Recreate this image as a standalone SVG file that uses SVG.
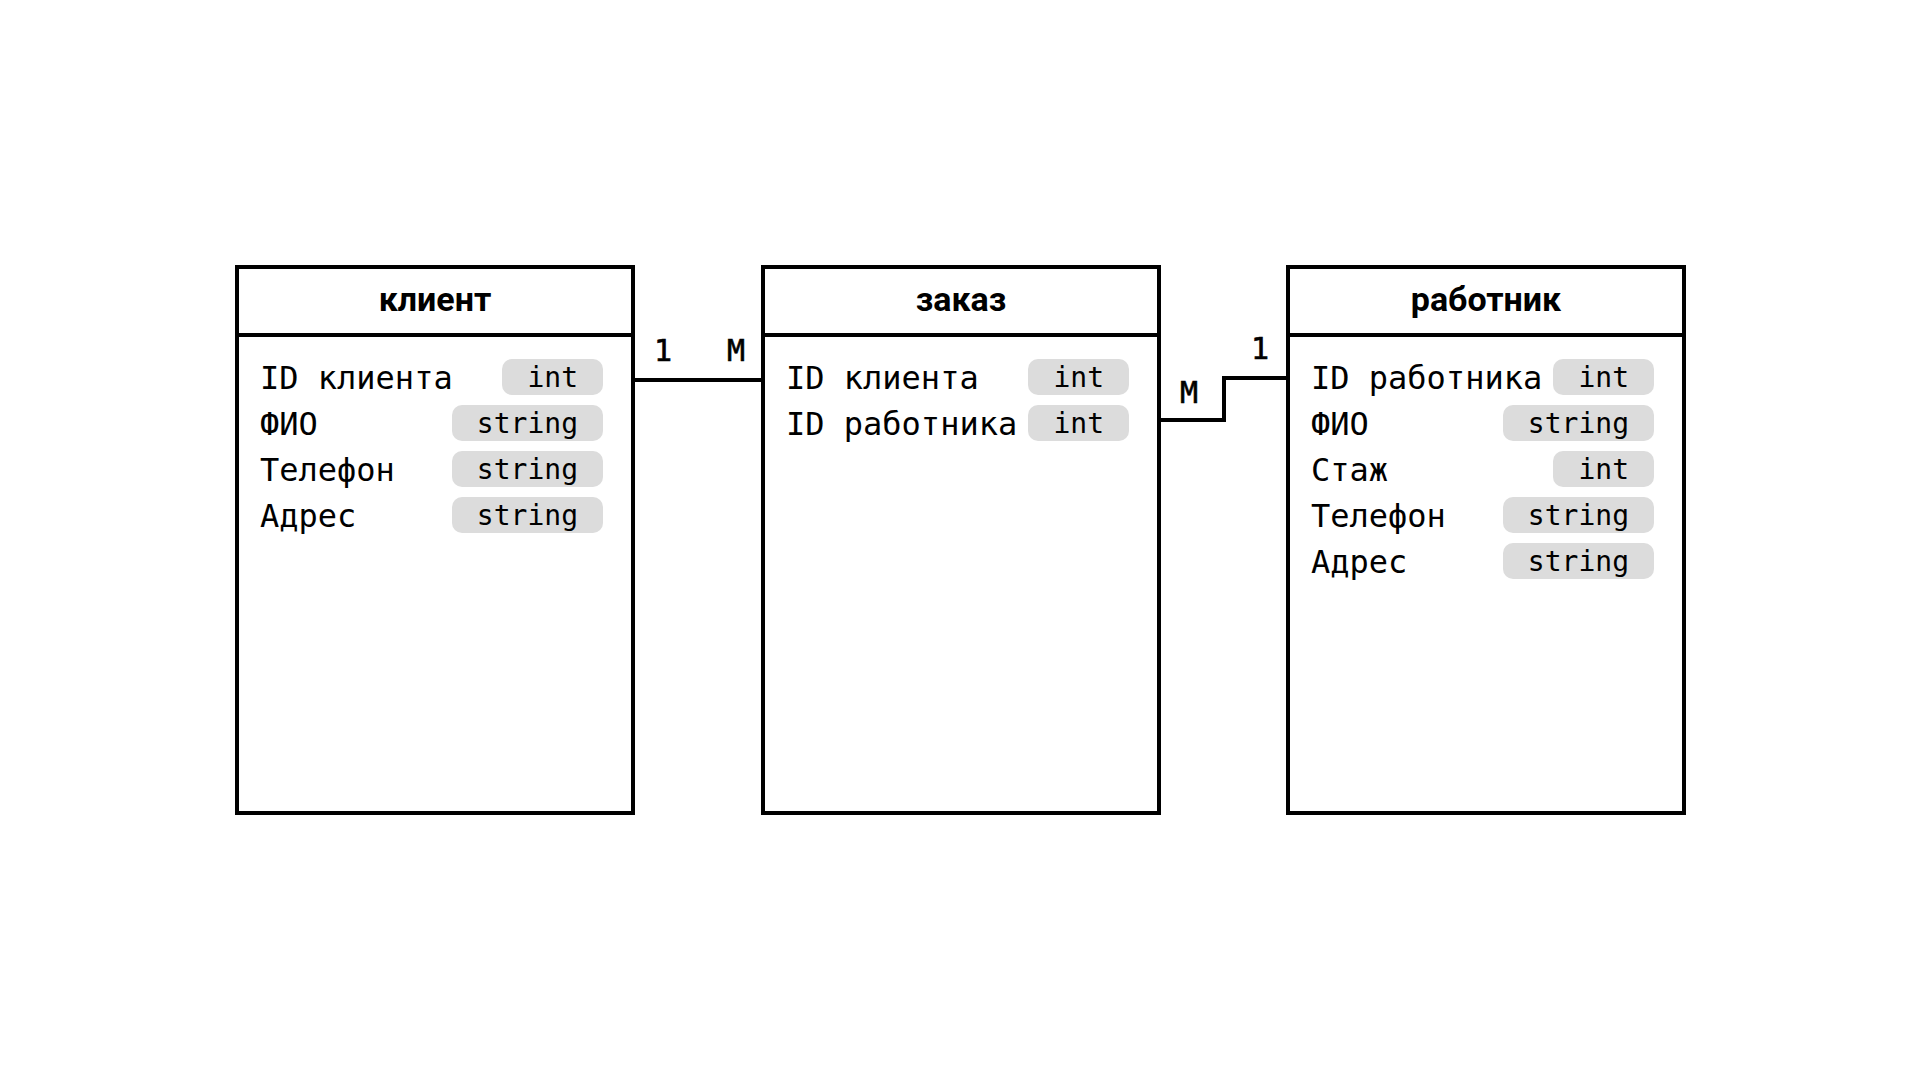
<svg xmlns="http://www.w3.org/2000/svg" width="1920" height="1080" viewBox="0 0 1920 1080">
<style>
.box{fill:#fff;stroke:#000;stroke-width:4}
.div{stroke:#000;stroke-width:4}
.title{font-family:Roboto,"Liberation Sans",sans-serif;font-weight:700;font-size:34px;fill:#000;text-anchor:middle}
.lbl{font-family:"DejaVu Sans Mono","Liberation Mono",monospace;font-size:32px;fill:#000}
.pill{fill:#dcdcdc}
.pt{font-family:"DejaVu Sans Mono","Liberation Mono",monospace;font-size:28px;fill:#000;text-anchor:end}
.card{font-family:"DejaVu Sans Mono","Liberation Mono",monospace;font-size:30px;fill:#000;text-anchor:middle;stroke:#000;stroke-width:0.6}
.conn{fill:none;stroke:#000;stroke-width:4}
</style>
<rect width="1920" height="1080" fill="#fff"/>
<g id="connectors">
<path class="conn" d="M633 380 H763"/>
<path class="conn" d="M1159 420 H1224 V378 H1288"/>
<text class="card" x="663" y="361">1</text>
<text class="card" x="736" y="361">M</text>
<text class="card" x="1189" y="403">M</text>
<text class="card" x="1260" y="359">1</text>
</g>
<g id="klient">
<rect class="box" x="237" y="267" width="396" height="546"/>
<line class="div" x1="237" y1="335" x2="633" y2="335"/>
<text class="title" x="435" y="311">клиент</text>
<rect class="pill" x="502" y="359" width="101" height="36" rx="10"/>
<rect class="pill" x="452" y="405" width="151" height="36" rx="10"/>
<rect class="pill" x="452" y="451" width="151" height="36" rx="10"/>
<rect class="pill" x="452" y="497" width="151" height="36" rx="10"/>
<text class="lbl" x="260" y="389">ID клиента</text>
<text class="lbl" x="260" y="435">ФИО</text>
<text class="lbl" x="260" y="481">Телефон</text>
<text class="lbl" x="260" y="527">Адрес</text>
<text class="pt" x="578" y="387">int</text>
<text class="pt" x="578" y="433">string</text>
<text class="pt" x="578" y="479">string</text>
<text class="pt" x="578" y="525">string</text>
</g>
<g id="zakaz">
<rect class="box" x="763" y="267" width="396" height="546"/>
<line class="div" x1="763" y1="335" x2="1159" y2="335"/>
<text class="title" x="961" y="311">заказ</text>
<rect class="pill" x="1028" y="359" width="101" height="36" rx="10"/>
<rect class="pill" x="1028" y="405" width="101" height="36" rx="10"/>
<text class="lbl" x="786" y="389">ID клиента</text>
<text class="lbl" x="786" y="435">ID работника</text>
<text class="pt" x="1104" y="387">int</text>
<text class="pt" x="1104" y="433">int</text>
</g>
<g id="rabotnik">
<rect class="box" x="1288" y="267" width="396" height="546"/>
<line class="div" x1="1288" y1="335" x2="1684" y2="335"/>
<text class="title" x="1486" y="311">работник</text>
<rect class="pill" x="1553" y="359" width="101" height="36" rx="10"/>
<rect class="pill" x="1503" y="405" width="151" height="36" rx="10"/>
<rect class="pill" x="1553" y="451" width="101" height="36" rx="10"/>
<rect class="pill" x="1503" y="497" width="151" height="36" rx="10"/>
<rect class="pill" x="1503" y="543" width="151" height="36" rx="10"/>
<text class="lbl" x="1311" y="389">ID работника</text>
<text class="lbl" x="1311" y="435">ФИО</text>
<text class="lbl" x="1311" y="481">Стаж</text>
<text class="lbl" x="1311" y="527">Телефон</text>
<text class="lbl" x="1311" y="573">Адрес</text>
<text class="pt" x="1629" y="387">int</text>
<text class="pt" x="1629" y="433">string</text>
<text class="pt" x="1629" y="479">int</text>
<text class="pt" x="1629" y="525">string</text>
<text class="pt" x="1629" y="571">string</text>
</g>
</svg>
